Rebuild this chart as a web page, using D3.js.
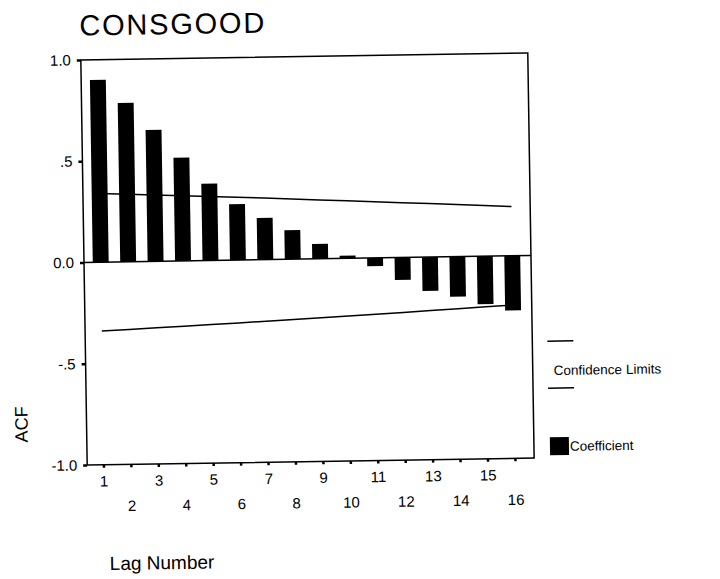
<!DOCTYPE html>
<html>
<head>
<meta charset="utf-8">
<script src="https://cdn.jsdelivr.net/npm/d3@7/dist/d3.min.js"></script>
<style>
  body { margin: 0; background: #fff; }
  text { font-family: "Liberation Sans", Arial, Helvetica, sans-serif; fill: #000; }
</style>
</head>
<body>
<svg id="chart" width="720" height="579"></svg>
<script>
// Autocorrelation function of CONSGOOD, lags 1..16
const lags = [1, 2, 3, 4, 5, 6, 7, 8, 9, 10, 11, 12, 13, 14, 15, 16];
const acf = [0.90, 0.785, 0.65, 0.51, 0.38, 0.276, 0.206, 0.144, 0.074, 0.014,
             -0.04, -0.11, -0.167, -0.197, -0.237, -0.27];
// Upper / lower confidence limits at each lag
const upperLimit = [0.340, 0.334, 0.328, 0.322, 0.316, 0.310, 0.304, 0.298,
                    0.291, 0.285, 0.278, 0.271, 0.264, 0.257, 0.250, 0.243];
const lowerLimit = [-0.340, -0.334, -0.328, -0.322, -0.316, -0.310, -0.304, -0.298,
                    -0.291, -0.285, -0.278, -0.271, -0.264, -0.257, -0.250, -0.243];
const yTicks = [-1, -0.5, 0, 0.5, 1];
const yTickLabels = ["-1.0", "-.5", "0.0", ".5", "1.0"];
const title = "CONSGOOD";
const legendItems = ["Confidence Limits", "Coefficient"];

const svg = d3.select("#chart");
// the whole page sits slightly tilted
const root = svg.append("g").attr("transform", "rotate(-0.9,305,260)");

const plot = { left: 84, right: 531, top: 56.5, bottom: 461.6 };

const x = d3.scaleBand().domain(lags).range([87, 526]).paddingInner(0.42).paddingOuter(0.21);
const y = d3.scaleLinear().domain([-1, 1]).range([plot.bottom, plot.top]);

// title
root.append("text")
  .attr("x", 83).attr("y", 32)
  .attr("font-size", 29)
  .attr("textLength", 185).attr("lengthAdjust", "spacing")
  .text(title);

// frame
root.append("rect")
  .attr("x", plot.left).attr("y", plot.top)
  .attr("width", plot.right - plot.left).attr("height", plot.bottom - plot.top)
  .attr("fill", "none").attr("stroke", "#000").attr("stroke-width", 1.5);

// bars
root.append("g").selectAll("rect").data(lags).join("rect")
  .attr("x", (d) => x(d))
  .attr("width", x.bandwidth())
  .attr("y", (d, i) => y(Math.max(0, acf[i])))
  .attr("height", (d, i) => Math.abs(y(acf[i]) - y(0)))
  .attr("fill", "#000");

// zero line
root.append("line")
  .attr("x1", plot.left).attr("x2", plot.right)
  .attr("y1", y(0)).attr("y2", y(0))
  .attr("stroke", "#000").attr("stroke-width", 1.5);

// confidence limits
const limitLine = d3.line().x((d) => x(d[0]) + x.bandwidth() / 2).y((d) => y(d[1]));
[upperLimit, lowerLimit].forEach((lim) => {
  root.append("path")
    .datum(lags.map((l, i) => [l, lim[i]]))
    .attr("d", limitLine)
    .attr("fill", "none").attr("stroke", "#000").attr("stroke-width", 1.5);
});

// y axis
const yAxis = root.append("g")
  .attr("transform", `translate(${plot.left},0)`)
  .call(d3.axisLeft(y).tickValues(yTicks).tickFormat((d, i) => yTickLabels[i]).tickSize(4).tickPadding(6));
yAxis.select(".domain").remove();
yAxis.selectAll(".tick line").attr("stroke", "#000").attr("stroke-width", 2.5);
yAxis.selectAll(".tick text").attr("font-size", 15).attr("font-family", null);

// x axis
const xAxis = root.append("g")
  .attr("transform", `translate(0,${plot.bottom})`)
  .call(d3.axisBottom(x).tickSize(3).tickPadding(8));
xAxis.select(".domain").remove();
xAxis.selectAll(".tick line").attr("stroke", "#000").attr("stroke-width", 2.5);
xAxis.selectAll(".tick text")
  .attr("font-size", 15).attr("font-family", null)
  .attr("y", (d) => (d % 2 === 1 ? 11 : 36));

// axis titles
root.append("text")
  .attr("transform", "translate(25,420) rotate(-90)")
  .attr("text-anchor", "middle")
  .attr("font-size", 18)
  .text("ACF");
root.append("text")
  .attr("x", 105).attr("y", 567)
  .attr("font-size", 19)
  .text("Lag Number");

// legend
const lg = root.append("g");
[345, 392].forEach((ly) => {
  lg.append("line").attr("x1", 546).attr("x2", 572).attr("y1", ly).attr("y2", ly)
    .attr("stroke", "#000").attr("stroke-width", 1.5);
});
lg.append("text").attr("x", 552).attr("y", 379).attr("font-size", 13.5).text(legendItems[0]);
lg.append("rect").attr("x", 547).attr("y", 441).attr("width", 19).attr("height", 18).attr("fill", "#000");
lg.append("text").attr("x", 567).attr("y", 455).attr("font-size", 13.5).text(legendItems[1]);
</script>
</body>
</html>
